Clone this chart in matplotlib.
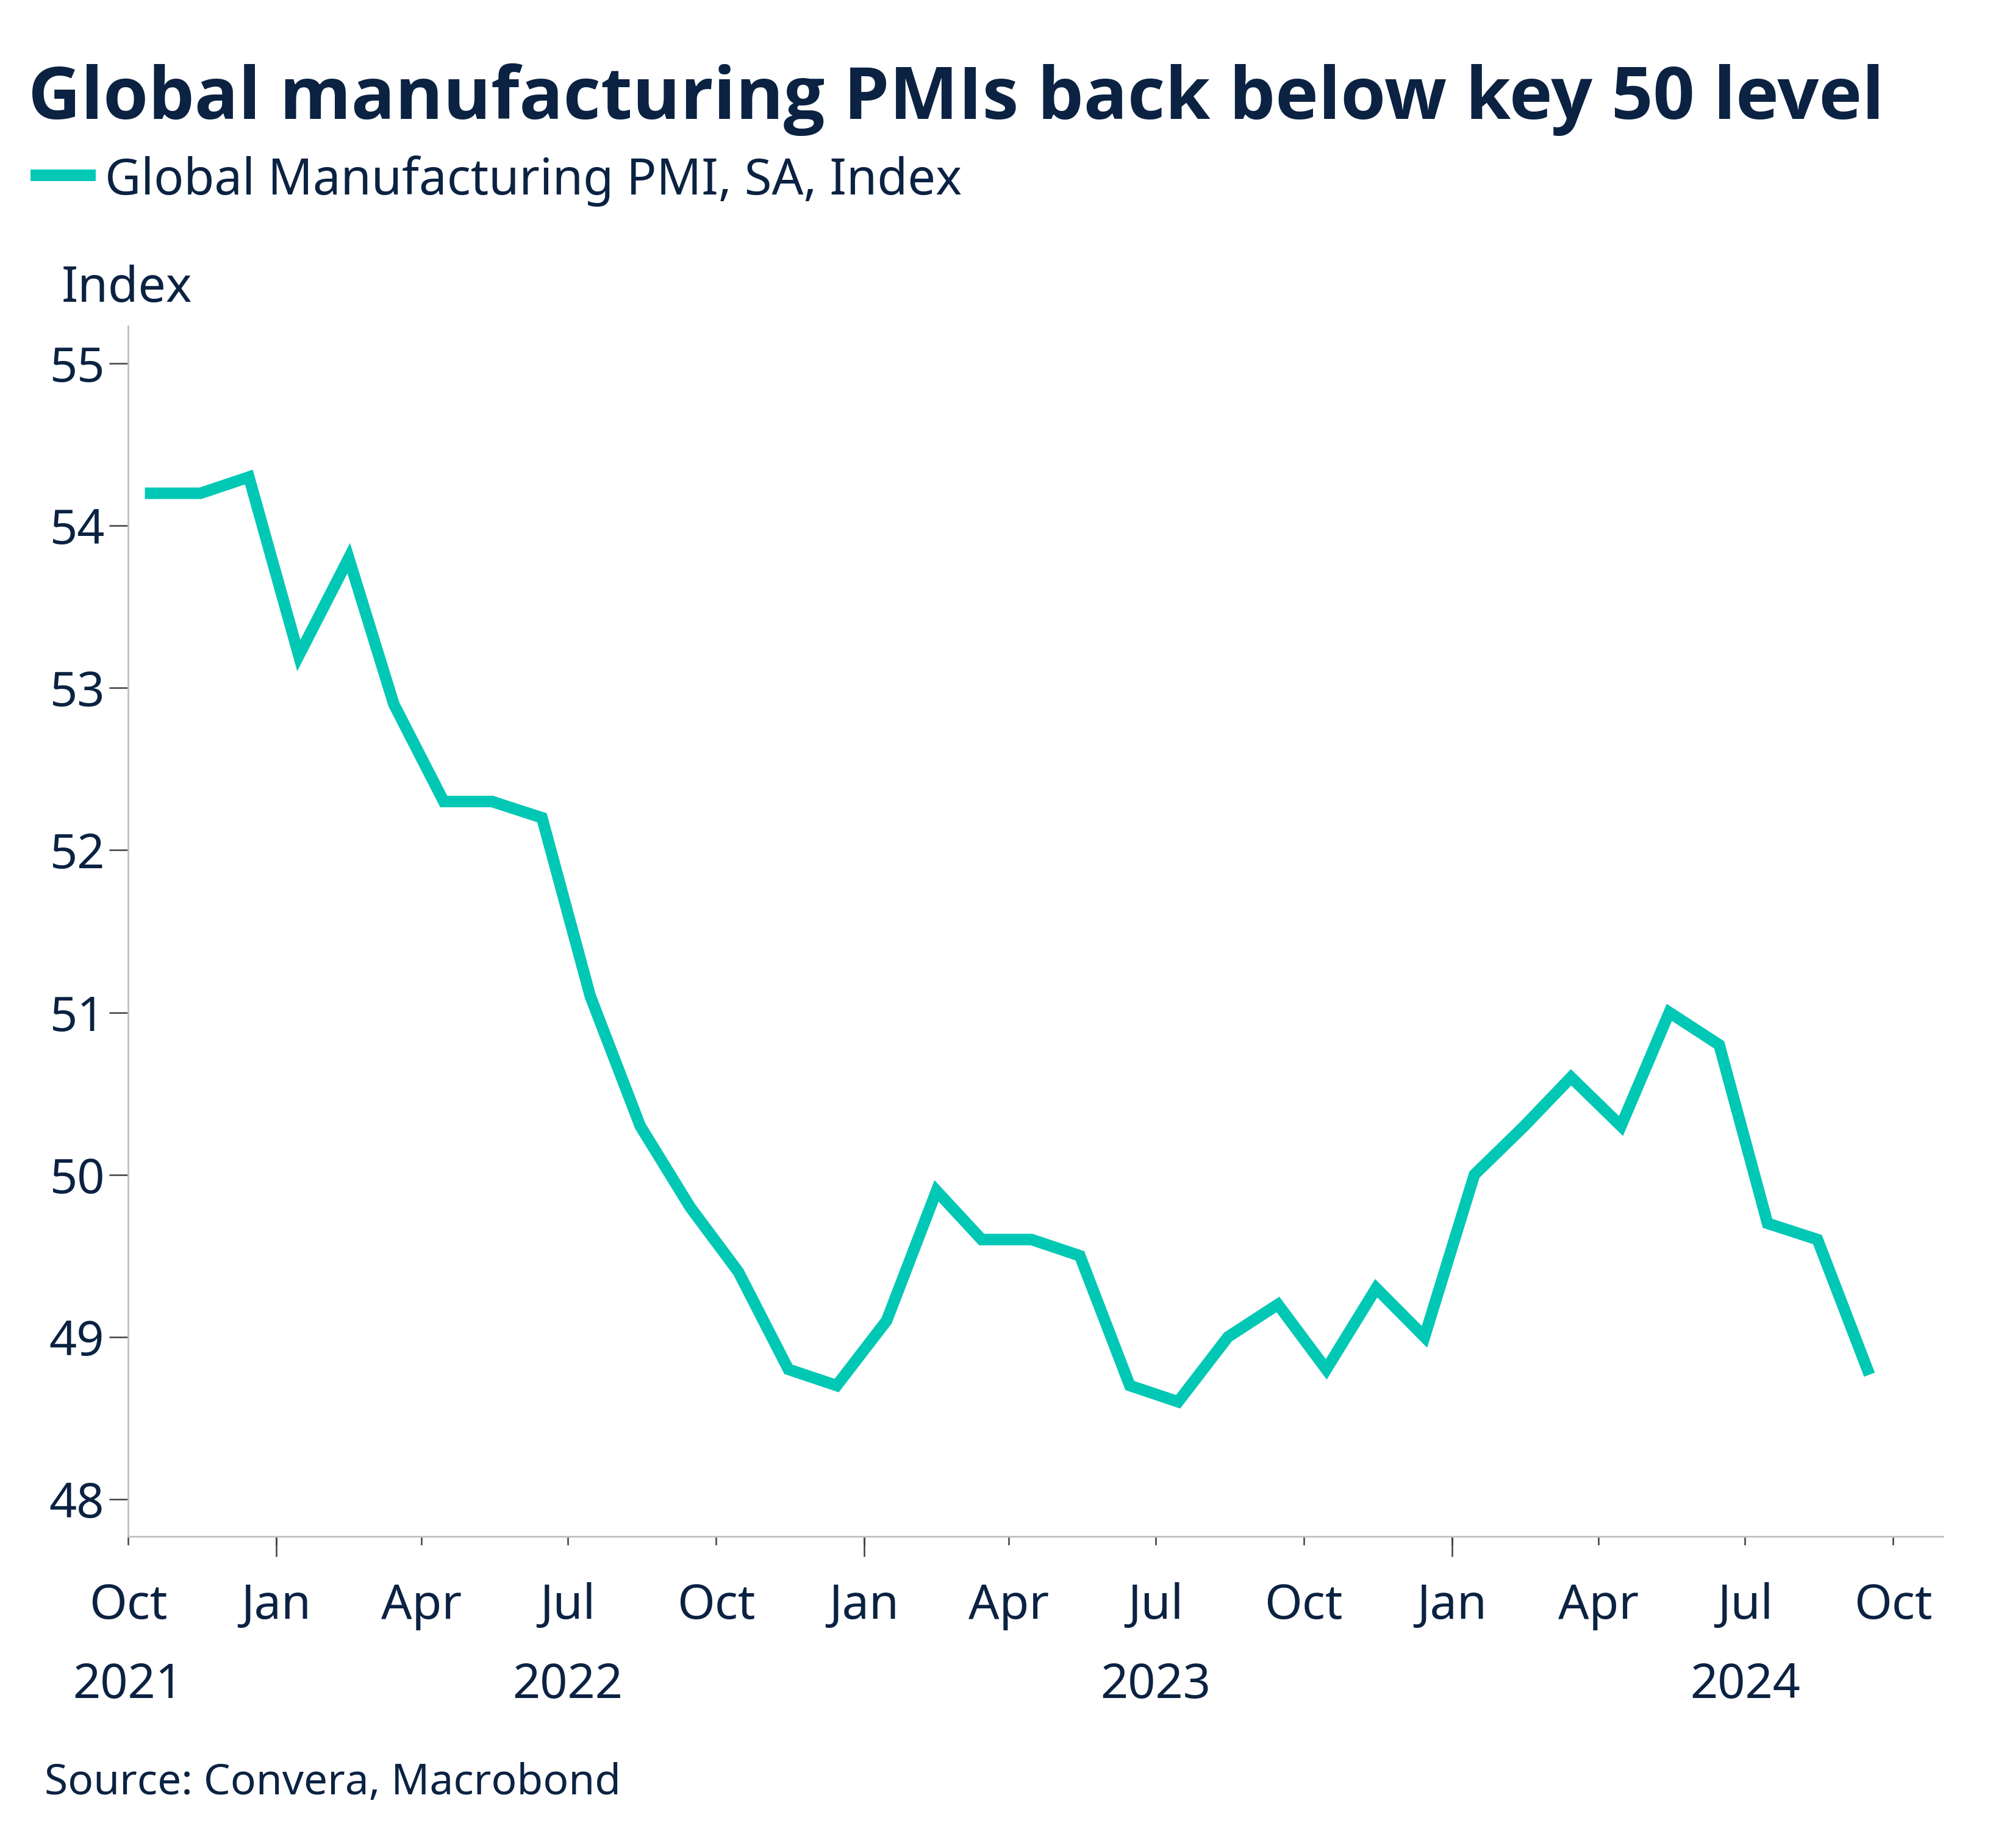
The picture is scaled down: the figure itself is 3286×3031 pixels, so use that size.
import pandas as pd
import numpy as np
import matplotlib
matplotlib.use("Agg")
import matplotlib.pyplot as plt
import matplotlib.dates as mdates

plt.rcParams['font.family'] = ['Noto Sans', 'DejaVu Sans']

months = pd.date_range("2021-10-01", periods=36, freq="MS")
pmi = [54.2, 54.2, 54.3, 53.2, 53.8, 52.9, 52.3, 52.3, 52.2, 51.1, 50.3, 49.8,
       49.4, 48.8, 48.7, 49.1, 49.9, 49.6, 49.6, 49.5, 48.7, 48.6, 49.0, 49.2,
       48.8, 49.3, 49.0, 50.0, 50.3, 50.6, 50.3, 51.0, 50.8, 49.7, 49.6, 48.8]
tick_dates = pd.date_range("2021-10-01", "2024-10-01", freq="QS")
tick_labels = ["Oct\n2021", "Jan", "Apr", "Jul\n2022", "Oct", "Jan", "Apr", "Jul\n2023",
               "Oct", "Jan", "Apr", "Jul\n2024", "Oct"]
year_starts = pd.to_datetime(["2022-01-01", "2023-01-01", "2024-01-01"])
y_ticks = [48, 49, 50, 51, 52, 53, 54, 55]

navy = "#0b2242"
teal = "#00c8b4"

fig = plt.figure(figsize=(16.435, 15.155), dpi=200)
ax = fig.add_axes([0.0639, 0.1686, 0.9054, 0.6549])

# points sit mid-month
x = months + pd.Timedelta(days=14)
ax.plot(x, pmi, color=teal, lw=6.8, solid_joinstyle="miter")

ax.set_ylim(47.77, 55.23)
ax.set_xlim(pd.Timestamp("2021-10-01"), pd.Timestamp("2024-11-01"))
ax.set_yticks(y_ticks)
ax.set_yticklabels([str(v) for v in y_ticks])

ax.set_xticks(tick_dates)
ax.set_xticklabels(tick_labels, linespacing=1.85)
ax.set_xticks(year_starts, minor=True)
ax.xaxis.remove_overlapping_locs = False

for s in ["top", "right"]:
    ax.spines[s].set_visible(False)
for s in ["left", "bottom"]:
    ax.spines[s].set_color("#c0c0c0")
    ax.spines[s].set_linewidth(1.0)

ax.tick_params(axis="y", length=11, width=0.9, color="#404040", pad=3,
               labelsize=28.5, labelcolor=navy)
ax.tick_params(axis="x", which="major", length=5, width=0.9, color="#404040",
               pad=22, labelsize=28.5, labelcolor=navy)
ax.tick_params(axis="x", which="minor", length=12, width=0.9, color="#404040")

fig.text(0.014, 0.9357, "Global manufacturing PMIs back below key 50 level",
         fontsize=43, fontweight="bold", family=["Open Sans", "DejaVu Sans"],
         color=navy, va="baseline")
fig.add_artist(plt.Line2D([0.018, 0.0447], [0.9053, 0.9053], color=teal, lw=6.8,
                          transform=fig.transFigure))
fig.text(0.0523, 0.8948, "Global Manufacturing PMI, SA, Index", fontsize=29.3,
         color=navy, va="baseline")
fig.text(0.0306, 0.8367, "Index", fontsize=29, color=navy, va="baseline")
fig.text(0.0223, 0.029, "Source: Convera, Macrobond", fontsize=25, color=navy,
         va="baseline")

fig.savefig("out.png", dpi=200)
